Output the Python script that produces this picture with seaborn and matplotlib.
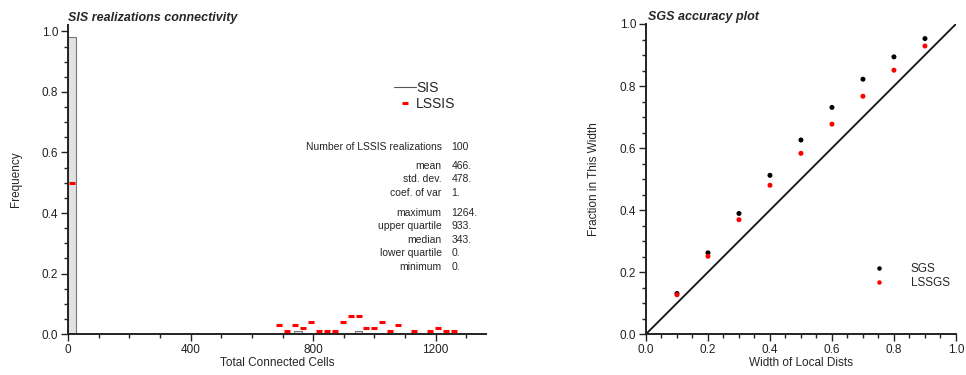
import numpy as np
import pandas as pd
import matplotlib
matplotlib.use("Agg")
import matplotlib.pyplot as plt
from matplotlib.lines import Line2D
from matplotlib.ticker import MultipleLocator
import seaborn as sns

# SIS histogram (bin left edge, frequency)
sis_left = [0, 737, 935]
sis_freq = [0.98, 0.01, 0.01]
sis_width = 26

# LSSIS frequencies (bin centre, frequency)
lssis_x = [14, 689, 714, 741, 766, 792, 818, 845, 871, 896, 922, 948, 974,
           1000, 1026, 1052, 1078, 1130, 1182, 1208, 1234, 1260]
lssis_freq = [0.50, 0.03, 0.01, 0.03, 0.02, 0.04, 0.01, 0.01, 0.01, 0.04, 0.06,
              0.06, 0.02, 0.02, 0.04, 0.01, 0.03, 0.01, 0.01, 0.02, 0.01, 0.01]

stat_labels = ["mean", "std. dev.", "coef. of var", "maximum", "upper quartile",
               "median", "lower quartile", "minimum"]
stat_values = ["466.", "478.", "1.", "1264.", "933.", "343.", "0.", "0."]

# accuracy plot
widths = [0.1, 0.2, 0.3, 0.4, 0.5, 0.6, 0.7, 0.8, 0.9]
sgs_frac = [0.131, 0.262, 0.389, 0.512, 0.626, 0.731, 0.822, 0.894, 0.953]
lssgs_frac = [0.127, 0.251, 0.369, 0.480, 0.583, 0.677, 0.767, 0.851, 0.929]

sns.set_style("ticks")
plt.rcParams["font.family"] = ["Liberation Sans", "DejaVu Sans"]
plt.rcParams["axes.edgecolor"] = "#222222"
plt.rcParams["axes.linewidth"] = 1.4

fig = plt.figure(figsize=(9.66, 3.75), dpi=100)
ax1 = fig.add_axes([0.0704, 0.109, 0.433, 0.825])
ax2 = fig.add_axes([0.6687, 0.109, 0.3209, 0.827])


def style_axis(ax):
    sns.despine(ax=ax)
    ax.tick_params(axis="both", which="major", length=5, width=1, labelsize=8.5,
                   colors="#222222", pad=2)
    ax.tick_params(axis="both", which="minor", length=3, width=1, colors="#222222")
    ax.yaxis.set_major_formatter(matplotlib.ticker.FormatStrFormatter("%.1f"))


# ---- left: connectivity histogram
ax1.bar(sis_left, sis_freq, width=sis_width, align="edge", color="#e2e2e2",
        edgecolor="#777777", linewidth=0.8, zorder=2)
sns.scatterplot(x=lssis_x, y=lssis_freq, ax=ax1, marker="_", s=14, linewidth=2.2,
                color="red", zorder=3, legend=False)
ax1.set_xlim(0, 1365)
ax1.set_ylim(0, 1.022)
ax1.xaxis.set_major_locator(MultipleLocator(400))
ax1.xaxis.set_minor_locator(MultipleLocator(100))
ax1.yaxis.set_major_locator(MultipleLocator(0.2))
ax1.yaxis.set_minor_locator(MultipleLocator(0.05))
style_axis(ax1)
ax1.xaxis.set_major_formatter(matplotlib.ticker.FormatStrFormatter("%d"))
ax1.set_xlabel("Total Connected Cells", fontsize=8.5, labelpad=1)
ax1.set_ylabel("Frequency", fontsize=8.5, labelpad=14)
ax1.set_title("SIS realizations connectivity", fontsize=9, fontweight="bold",
              style="italic", loc="left", pad=3)

handles = [Line2D([], [], color="#555555", linewidth=0.8),
           Line2D([], [], color="red", marker="_", markersize=4,
                  markeredgewidth=2.2, linestyle="none")]
ax1.legend(handles, ["SIS", "LSSIS"], loc="upper left", bbox_to_anchor=(0.762, 0.84),
           frameon=False, fontsize=10, handlelength=1.6, handletextpad=0.0,
           labelspacing=0.1, borderpad=0)

lab_x, val_x = 0.893, 0.917
ax1.text(lab_x, 0.605, "Number of LSSIS realizations", transform=ax1.transAxes,
         ha="right", va="center", fontsize=7.5)
ax1.text(val_x, 0.605, "100", transform=ax1.transAxes, ha="left", va="center",
         fontsize=7.5)
rows_y = [0.545, 0.500, 0.456, 0.393, 0.348, 0.305, 0.261, 0.216]
for lab, val, yy in zip(stat_labels, stat_values, rows_y):
    ax1.text(lab_x, yy, lab, transform=ax1.transAxes, ha="right", va="center",
             fontsize=7.5)
    ax1.text(val_x, yy, val, transform=ax1.transAxes, ha="left", va="center",
             fontsize=7.5)

# ---- right: accuracy plot
acc = pd.DataFrame({
    "width": widths * 2,
    "fraction": sgs_frac + lssgs_frac,
    "method": ["SGS"] * len(widths) + ["LSSGS"] * len(widths),
})
ax2.plot([0, 1], [0, 1], color="#111111", linewidth=1.3, zorder=1)
sns.scatterplot(data=acc, x="width", y="fraction", hue="method",
                palette={"SGS": "black", "LSSGS": "red"}, s=13, linewidth=0,
                ax=ax2, zorder=3)
ax2.set_xlim(0, 1)
ax2.set_ylim(0, 1)
ax2.xaxis.set_major_locator(MultipleLocator(0.2))
ax2.xaxis.set_minor_locator(MultipleLocator(0.05))
ax2.yaxis.set_major_locator(MultipleLocator(0.2))
ax2.yaxis.set_minor_locator(MultipleLocator(0.05))
style_axis(ax2)
ax2.xaxis.set_major_formatter(matplotlib.ticker.FormatStrFormatter("%.1f"))
ax2.set_xlabel("Width of Local Dists", fontsize=8.5, labelpad=1)
ax2.set_ylabel("Fraction in This Width", fontsize=8.5, labelpad=14)
ax2.set_title("SGS accuracy plot", fontsize=9, fontweight="bold",
              style="italic", loc="left", x=0.005, y=0.985)
ax2.legend(title=None, loc="upper left", bbox_to_anchor=(0.695, 0.248),
           frameon=False, fontsize=8.5, handletextpad=1.7, labelspacing=0.15,
           borderpad=0, markerscale=0.9)

fig.savefig("out.png", dpi=100)
